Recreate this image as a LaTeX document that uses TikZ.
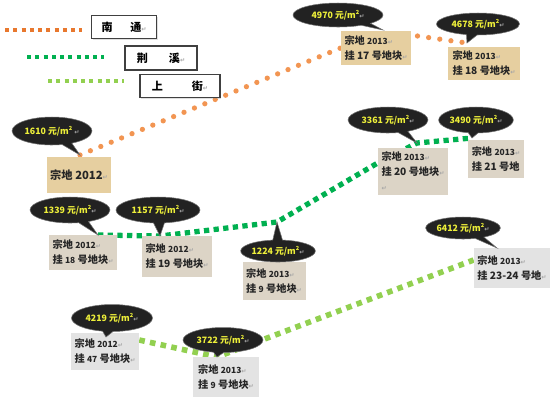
\documentclass[tikz,border=0pt]{standalone}
\usepackage{fontspec}
\setmainfont{Noto Sans CJK SC}
\newfontfamily\retfont{DejaVu Sans}
\usepackage{tikz}
\usetikzlibrary{shapes.callouts, shadows, backgrounds, calc}

\definecolor{cOrange}{HTML}{F29552}
\definecolor{cOrangeKey}{HTML}{E8782E}
\definecolor{cGreen}{HTML}{00B050}
\definecolor{cLime}{HTML}{92D050}
\definecolor{cTan}{HTML}{E6CFA0}
\definecolor{cLinen}{HTML}{DCD4C6}
\definecolor{cMarble}{HTML}{E3E3E3}
\definecolor{cBubble}{HTML}{222222}
\definecolor{cPrice}{HTML}{EEF03A}

\newcommand{\retmark}{{\retfont\fontsize{3.5}{4}\selectfont\color{black!35}↵}}
\newcommand{\smnum}[1]{{\fontsize{4.8}{6}\selectfont #1}}
\newcommand{\sqm}{m\raisebox{0.9ex}{\fontsize{3.2}{3.5}\selectfont 2}}

\tikzset{
    box_size/.style 2 args={minimum width=#1, minimum height=#2},
    legend_box/.style={
        rectangle, draw=black!75, fill=white, line width=0.6pt, align=center,
        font=\fontsize{6.3}{7}\selectfont\bfseries,
        drop shadow={opacity=0.25, shadow xshift=0.8pt, shadow yshift=-0.8pt}
    },
    plot_box/.style={
        rectangle, inner sep=2pt, align=left, text=black!85,
        font=\fontsize{5.8}{8.6}\selectfont\bfseries
    },
    plot_box_tan/.style={plot_box, fill=cTan},
    plot_box_linen/.style={plot_box, fill=cLinen},
    plot_box_marble/.style={plot_box, fill=cMarble},
    price_callout/.style={
        ellipse callout, fill=cBubble, draw=black!55, line width=0.3pt, inner sep=0pt,
        text=cPrice, font=\fontsize{5}{6}\selectfont\bfseries
    },
    key_orange/.style={line width=2.3pt, draw=cOrangeKey, dash pattern=on 2.3pt off 2.4pt},
    key_green/.style={line width=2.3pt, draw=cGreen, dash pattern=on 2.3pt off 2.4pt},
    key_lime/.style={line width=2.3pt, draw=cLime, dash pattern=on 2.3pt off 2.4pt},
    line_orange/.style={line width=3pt, draw=cOrange, line cap=round, dash pattern=on 0pt off 6.4pt},
    line_green/.style={line width=3pt, draw=cGreen, dash pattern=on 3pt off 2.5pt},
    line_lime/.style={line width=3.2pt, draw=cLime, dash pattern=on 3.2pt off 3pt}
}

\begin{document}
\begin{tikzpicture}[x=0.02cm, y=-0.02cm]
    \useasboundingbox (0,0) rectangle (550,400);

    % Leyenda
    \node[legend_box, box_size={1.3cm}{0.46cm}] (lg_nt) at (124,27) {南\hspace{1.6em}通\retmark};
    \node[legend_box, box_size={1.44cm}{0.48cm}] (lg_jx) at (161,58) {荆\hspace{1.9em}溪\retmark};
    \node[legend_box, box_size={1.6cm}{0.42cm}] (lg_sj) at (180,86) {上\hspace{2.6em}街\retmark};
    \coordinate (key_nt) at (5,30);
    \coordinate (key_jx) at (27,57);
    \coordinate (key_sj) at (48,81);
    \draw[key_orange] (key_nt) -- ($(key_nt -| lg_nt.west)+(-9,0)$);
    \draw[key_green] (key_jx) -- ($(key_jx -| lg_jx.west)+(-20,0)$);
    \draw[key_lime] (key_sj) -- ($(key_sj -| lg_sj.west)+(-15,0)$);

    % Puntas de los globos
    \coordinate (t1610) at (80,155);
    \coordinate (t4970) at (383,30);
    \coordinate (t4678) at (467,43);
    \coordinate (t1339) at (98,235);
    \coordinate (t1157) at (160,236);
    \coordinate (t1224) at (277,222);
    \coordinate (t3361) at (417,143);
    \coordinate (t3490) at (472,138);
    \coordinate (t6412) at (497,248);
    \coordinate (t4219) at (106,337);
    \coordinate (t3722) at (217,357);

    % Parcelas: 南通
    \node[plot_box_tan, box_size={1.24cm}{0.72cm}, font=\fontsize{6.4}{8}\selectfont\bfseries] (b1610) at (79,175) {宗地 2012\retmark};
    \node[plot_box_tan, box_size={1.36cm}{0.68cm}] (b4970) at (376,48) {宗地 \smnum{2013}\retmark\\挂 17 号地块\retmark};
    \node[plot_box_tan, box_size={1.44cm}{0.66cm}] (b4678) at (484,63) {宗地 \smnum{2013}\retmark\\挂 18 号地块\retmark};

    % Parcelas: 荆溪
    \node[plot_box_linen, box_size={1.26cm}{0.7cm}] (b1339) at (83,252) {宗地 \smnum{2012}\retmark\\挂 \smnum{18} 号地块\retmark};
    \node[plot_box_linen, box_size={1.4cm}{0.82cm}] (b1157) at (177,256) {宗地 \smnum{2012}\retmark\\挂 19 号地块\retmark};
    \node[plot_box_linen, box_size={1.26cm}{0.76cm}] (b1224) at (274,281) {宗地 \smnum{2013}\retmark\\挂 \smnum{9} 号地块\retmark};
    \node[plot_box_linen, box_size={1.34cm}{0.94cm}] (b3361) at (413,171) {宗地 \smnum{2013}\retmark\\挂 20 号地块\retmark\\\retmark};
    \node[plot_box_linen, box_size={1.06cm}{0.76cm}] (b3490) at (496,159) {宗地 \smnum{2013}\retmark\\挂 21 号地};

    % Parcelas: 上街
    \node[plot_box_marble, box_size={1.38cm}{0.8cm}] (b6412) at (512,268) {宗地 \smnum{2013}\retmark\\挂 23-24 号地\retmark};
    \node[plot_box_marble, box_size={1.32cm}{0.74cm}] (b4219) at (105,351) {宗地 \smnum{2012}\retmark\\挂 \smnum{47} 号地块\retmark};
    \node[plot_box_marble, box_size={1.34cm}{0.8cm}] (b3722) at (226,377) {宗地 \smnum{2013}\retmark\\挂 \smnum{9} 号地块\retmark};

    % Precios
    \node[price_callout, box_size={1.6cm}{0.56cm}, callout absolute pointer={(t1610)}] (c1610) at (52,131) {1610 元/\sqm\ \retmark};
    \node[price_callout, box_size={1.8cm}{0.48cm}, callout absolute pointer={(t4970)}] (c4970) at (338,15) {4970 元/\sqm\retmark};
    \node[price_callout, box_size={1.66cm}{0.44cm}, callout absolute pointer={(t4678)}] (c4678) at (478,24) {4678 元/\sqm\retmark};
    \node[price_callout, box_size={1.6cm}{0.52cm}, callout absolute pointer={(t1339)}] (c1339) at (70,210) {1339 元/\sqm\retmark};
    \node[price_callout, box_size={1.68cm}{0.52cm}, callout absolute pointer={(t1157)}] (c1157) at (158,210) {1157 元/\sqm\retmark};
    \node[price_callout, box_size={1.44cm}{0.44cm}, callout absolute pointer={(t1224)}] (c1224) at (278,251) {1224 元/\sqm\retmark};
    \node[price_callout, box_size={1.6cm}{0.52cm}, callout absolute pointer={(t3361)}] (c3361) at (388,120) {3361 元/\sqm\retmark};
    \node[price_callout, box_size={1.46cm}{0.52cm}, callout absolute pointer={(t3490)}] (c3490) at (476,120) {3490 元/\sqm\retmark};
    \node[price_callout, box_size={1.4cm}{0.44cm}, callout absolute pointer={(t6412)}] (c6412) at (463,228) {6412 元/\sqm\retmark};
    \node[price_callout, box_size={1.62cm}{0.54cm}, callout absolute pointer={(t4219)}] (c4219) at (112,318) {4219 元/\sqm\retmark};
    \node[price_callout, box_size={1.6cm}{0.5cm}, callout absolute pointer={(t3722)}] (c3722) at (223,340) {3722 元/\sqm\retmark};

    % Tendencias
    \begin{scope}[on background layer]
        \draw[line_orange] (t1610) -- (b4970.west) -- (b4970.20) -- (t4678);
        \draw[line_green] (t1339) -- (t1157) -- (t1224) -- ($(b3361.west)+(0,-8)$) -- (t3361) -- (t3490);
        \draw[line_lime] ($(b4219.east)+(0,-11)$) -- (t3722) -- ($(b6412.west)+(0,-8)$);
    \end{scope}
\end{tikzpicture}
\end{document}
